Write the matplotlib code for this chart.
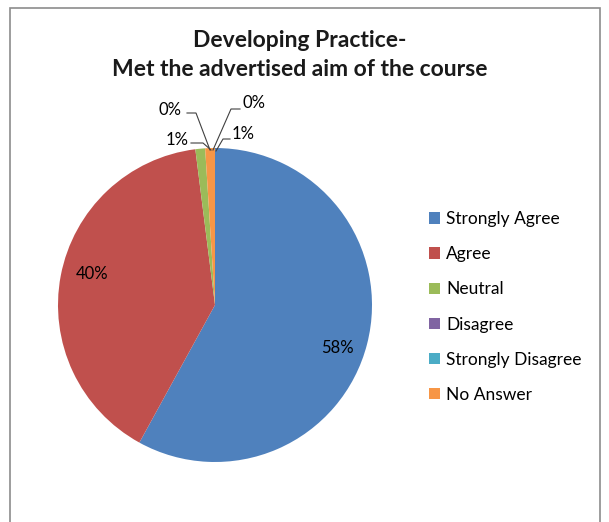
import matplotlib
matplotlib.use("Agg")
import matplotlib.pyplot as plt
from matplotlib.patches import Rectangle

plt.rcParams['font.family'] = ['Lato', 'DejaVu Sans']

categories = ['Strongly Agree', 'Agree', 'Neutral', 'Disagree', 'Strongly Disagree', 'No Answer']
values = [58, 40, 1, 0, 0, 1]
colors = ['#4F81BD', '#C0504D', '#9BBB59', '#8064A2', '#4BACC6', '#F79646']
title = 'Developing Practice-\nMet the advertised aim of the course'

fig = plt.figure(figsize=(6.09, 5.22), dpi=100)

# chart frame (Excel style, bottom runs off the picture)
fig.patches.append(Rectangle((10 / 609, -0.05), 590 / 609, 1.05 - 8 / 522,
                             transform=fig.transFigure, fill=False,
                             edgecolor='#8c8c8c', linewidth=1.2))

fig.text(300 / 609, 1 - 55 / 522, title, ha='center', va='center',
         fontsize=16.5, fontweight='bold', linespacing=1.45, color='#1a1a1a')

ax = fig.add_axes([(215 - 157) / 609, (217 - 157) / 522, 314 / 609, 314 / 522])
wedges, _ = ax.pie(values, colors=colors, startangle=90, counterclock=False,
                   radius=1.0, wedgeprops=dict(linewidth=0))
ax.set_xlim(-1, 1)
ax.set_ylim(-1, 1)
ax.set_aspect('equal')
ax.axis('off')

total = sum(values)
lab_size = 12

def px(x, y):
    return ((x - 215) / 157, (305 - y) / 157)

# labels for the two large slices, inside the pie
ax.text(*px(92, 274), '%d%%' % round(100 * values[1] / total), ha='center', va='center', fontsize=lab_size)
ax.text(*px(337, 348), '%d%%' % round(100 * values[0] / total), ha='center', va='center', fontsize=lab_size)

# small slices with leader lines: (index, text pos, elbow start, elbow end, wedge point)
small = [
    (3, (170, 110), (187, 113), (196, 113), (210, 150)),
    (2, (177, 140), (191, 143), (203, 143), (211, 150)),
    (4, (254, 103), (240, 109), (231, 109), (213, 150)),
    (5, (243, 134), (230, 139), (223, 139), (216, 151)),
]
for i, tp, e1, e2, wp in small:
    ax.text(*px(*tp), '%d%%' % round(100 * values[i] / total), ha='center', va='center', fontsize=lab_size)
    xs, ys = zip(*[px(*p) for p in (e1, e2, wp)])
    ax.plot(xs, ys, color='#404040', linewidth=0.8, clip_on=False)

fig.legend(wedges, categories, loc='center left', bbox_to_anchor=(422 / 609, 1 - 307 / 522),
           frameon=False, fontsize=12.5, handlelength=0.65, handleheight=0.65,
           handletextpad=0.35, labelspacing=1.1, borderaxespad=0)

fig.savefig('out.png', dpi=100)
